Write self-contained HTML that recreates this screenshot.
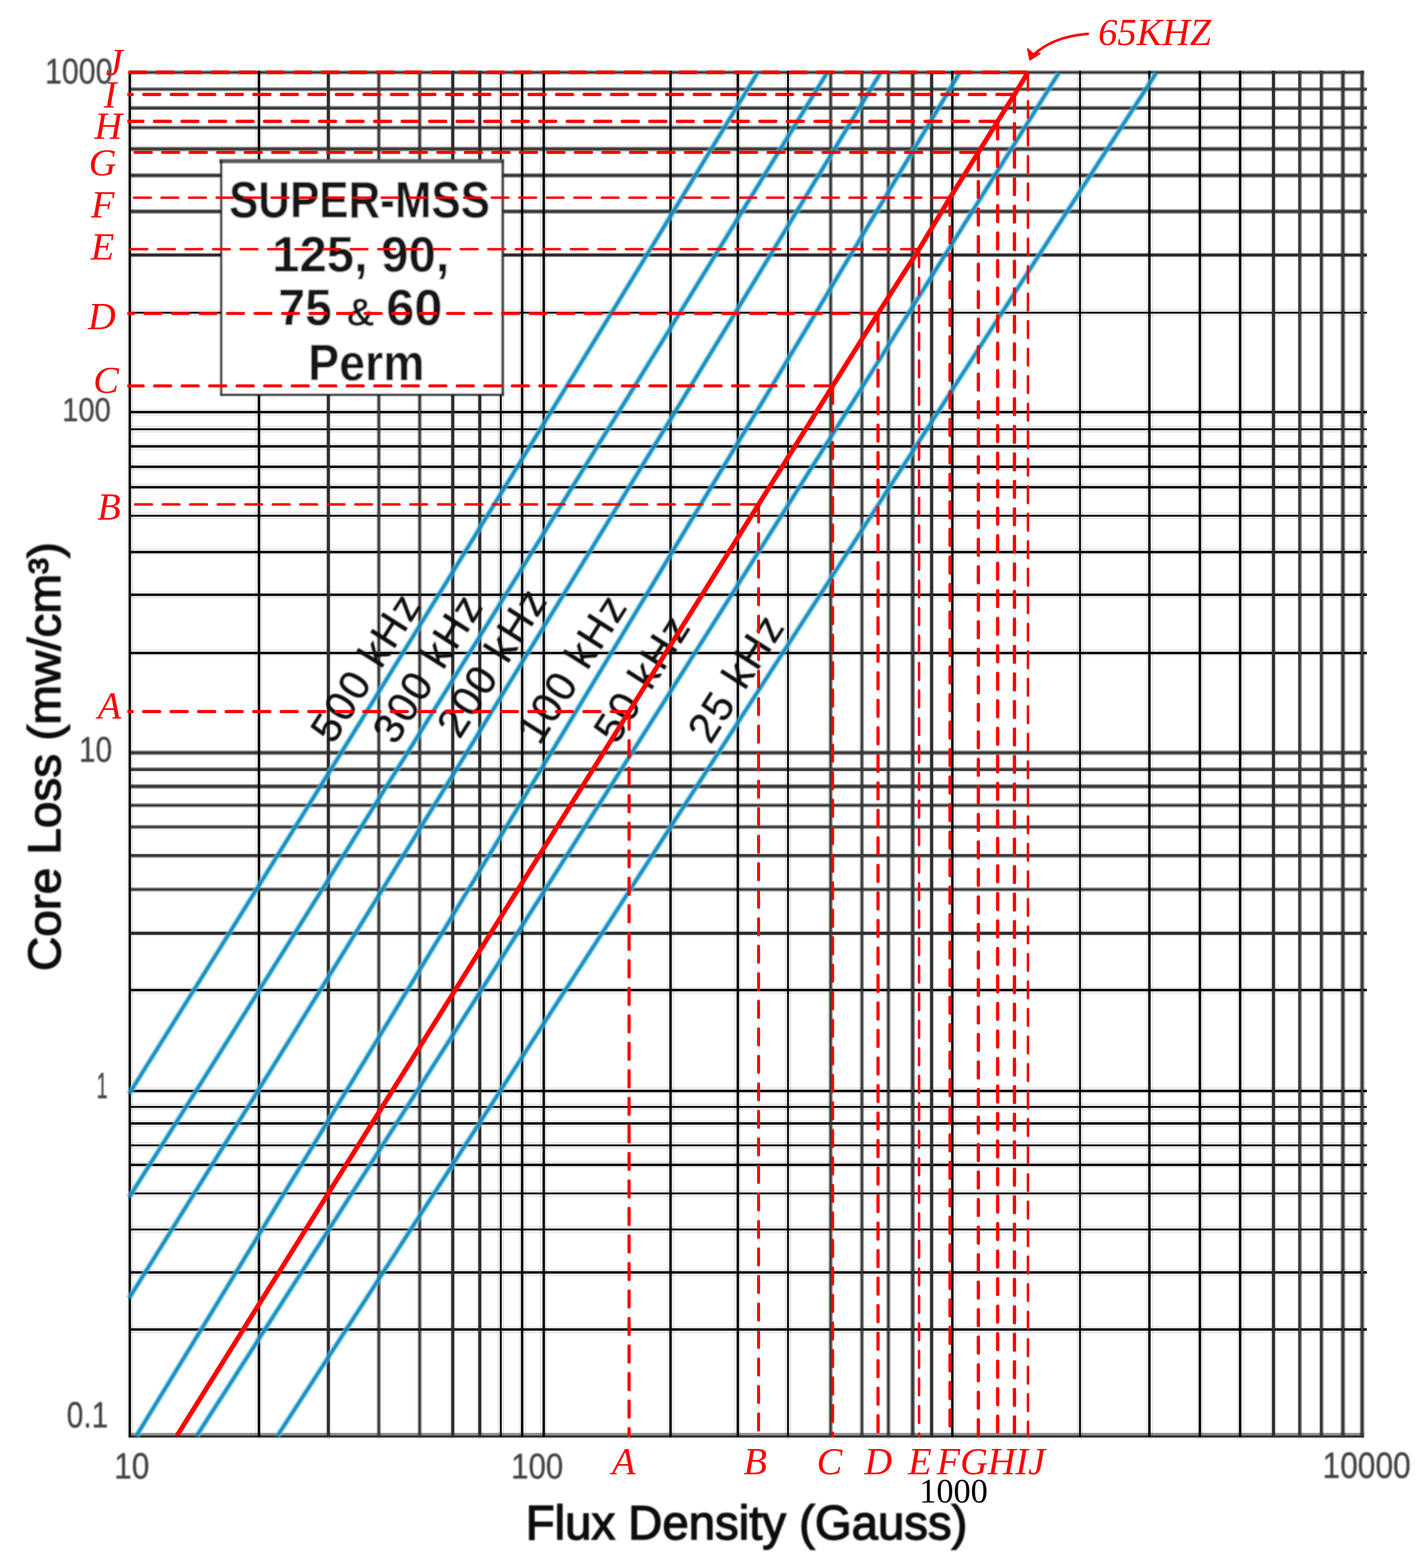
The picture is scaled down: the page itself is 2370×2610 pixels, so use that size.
<!DOCTYPE html>
<html lang="en">
<head>
<meta charset="utf-8">
<title>SUPER-MSS Core Loss vs Flux Density</title>
<style>
html,body{margin:0;padding:0;background:#fff;}
body{width:2370px;height:2610px;}
svg{display:block;}
</style>
</head>
<body>
<svg width="2370" height="2610" viewBox="0 0 2370 2610">
<defs>
<filter id="soft" x="0" y="0" width="2370" height="2610" filterUnits="userSpaceOnUse"><feGaussianBlur stdDeviation="1.0"/></filter>
<clipPath id="clipH"><rect x="212.5" y="0" width="2200" height="2610"/></clipPath>
<clipPath id="clipV"><rect x="0" y="0" width="2370" height="2392.6"/></clipPath>
</defs>
<rect width="2370" height="2610" fill="#fff"/>
<g id="chart">
<g id="grid" shape-rendering="crispEdges">
<rect x="214.0" y="116.80" width="2056.4" height="7.2" fill="#000" fill-opacity="0.4"/>
<rect x="214.0" y="144.70" width="2060.5" height="7.2" fill="#000" fill-opacity="0.4"/>
<rect x="214.0" y="176.20" width="2060.5" height="7.2" fill="#000" fill-opacity="0.4"/>
<rect x="214.0" y="208.70" width="2060.5" height="7.2" fill="#000" fill-opacity="0.4"/>
<rect x="214.0" y="244.40" width="2060.5" height="7.2" fill="#000" fill-opacity="0.4"/>
<rect x="214.0" y="288.40" width="2060.5" height="7.2" fill="#000" fill-opacity="0.4"/>
<rect x="214.0" y="348.40" width="2060.5" height="7.2" fill="#000" fill-opacity="0.4"/>
<rect x="214.0" y="420.00" width="2060.5" height="9.0" fill="#000" fill-opacity="0.12"/>
<rect x="214.0" y="515.00" width="2060.5" height="11.0" fill="#000" fill-opacity="0.085"/>
<rect x="214.0" y="680.50" width="2060.5" height="11.0" fill="#000" fill-opacity="0.085"/>
<rect x="214.0" y="708.90" width="2060.5" height="11.0" fill="#000" fill-opacity="0.085"/>
<rect x="214.0" y="737.50" width="2060.5" height="11.0" fill="#000" fill-opacity="0.085"/>
<rect x="214.0" y="771.70" width="2060.5" height="11.0" fill="#000" fill-opacity="0.085"/>
<rect x="214.0" y="805.20" width="2060.5" height="11.0" fill="#000" fill-opacity="0.085"/>
<rect x="214.0" y="853.00" width="2060.5" height="11.0" fill="#000" fill-opacity="0.085"/>
<rect x="214.0" y="913.10" width="2060.5" height="11.0" fill="#000" fill-opacity="0.085"/>
<rect x="214.0" y="984.70" width="2060.5" height="11.0" fill="#000" fill-opacity="0.085"/>
<rect x="214.0" y="1081.10" width="2060.5" height="11.0" fill="#000" fill-opacity="0.085"/>
<rect x="214.0" y="1249.30" width="2060.5" height="7.2" fill="#000" fill-opacity="0.4"/>
<rect x="214.0" y="1277.20" width="2060.5" height="7.2" fill="#000" fill-opacity="0.4"/>
<rect x="214.0" y="1305.30" width="2060.5" height="7.2" fill="#000" fill-opacity="0.4"/>
<rect x="214.0" y="1336.70" width="2060.5" height="7.2" fill="#000" fill-opacity="0.4"/>
<rect x="214.0" y="1372.80" width="2060.5" height="7.2" fill="#000" fill-opacity="0.4"/>
<rect x="214.0" y="1420.50" width="2060.5" height="7.2" fill="#000" fill-opacity="0.4"/>
<rect x="214.0" y="1476.80" width="2060.5" height="7.2" fill="#000" fill-opacity="0.4"/>
<rect x="214.0" y="1548.80" width="2060.5" height="9.0" fill="#000" fill-opacity="0.12"/>
<rect x="214.0" y="1642.50" width="2060.5" height="11.0" fill="#000" fill-opacity="0.085"/>
<rect x="214.0" y="1810.20" width="2060.5" height="11.0" fill="#000" fill-opacity="0.085"/>
<rect x="214.0" y="1837.00" width="2060.5" height="11.0" fill="#000" fill-opacity="0.085"/>
<rect x="214.0" y="1864.80" width="2060.5" height="11.0" fill="#000" fill-opacity="0.085"/>
<rect x="214.0" y="1900.90" width="2060.5" height="11.0" fill="#000" fill-opacity="0.085"/>
<rect x="214.0" y="1933.10" width="2060.5" height="11.0" fill="#000" fill-opacity="0.085"/>
<rect x="214.0" y="1980.90" width="2060.5" height="11.0" fill="#000" fill-opacity="0.085"/>
<rect x="214.0" y="2041.00" width="2060.5" height="11.0" fill="#000" fill-opacity="0.085"/>
<rect x="214.0" y="2112.50" width="2060.5" height="11.0" fill="#000" fill-opacity="0.085"/>
<rect x="214.0" y="2207.80" width="2060.5" height="11.0" fill="#000" fill-opacity="0.085"/>
<rect x="214.0" y="2385.30" width="2056.4" height="7.6" fill="#000" fill-opacity="0.42"/>
<rect x="210.50" y="118.0" width="11.0" height="2274.0" fill="#000" fill-opacity="0.085"/>
<rect x="425.10" y="118.0" width="11.0" height="2274.0" fill="#000" fill-opacity="0.085"/>
<rect x="542.00" y="118.0" width="9.0" height="2274.0" fill="#000" fill-opacity="0.12"/>
<rect x="626.70" y="118.0" width="7.2" height="2274.0" fill="#000" fill-opacity="0.4"/>
<rect x="694.70" y="118.0" width="7.2" height="2274.0" fill="#000" fill-opacity="0.4"/>
<rect x="749.30" y="118.0" width="9.0" height="2274.0" fill="#000" fill-opacity="0.12"/>
<rect x="793.70" y="118.0" width="9.0" height="2274.0" fill="#000" fill-opacity="0.12"/>
<rect x="828.00" y="118.0" width="11.0" height="2274.0" fill="#000" fill-opacity="0.085"/>
<rect x="863.50" y="118.0" width="11.0" height="2274.0" fill="#000" fill-opacity="0.085"/>
<rect x="899.30" y="118.0" width="11.0" height="2274.0" fill="#000" fill-opacity="0.085"/>
<rect x="1110.60" y="118.0" width="11.0" height="2274.0" fill="#000" fill-opacity="0.085"/>
<rect x="1222.30" y="118.0" width="11.0" height="2274.0" fill="#000" fill-opacity="0.085"/>
<rect x="1305.90" y="118.0" width="11.0" height="2274.0" fill="#000" fill-opacity="0.085"/>
<rect x="1378.60" y="118.0" width="7.2" height="2274.0" fill="#000" fill-opacity="0.4"/>
<rect x="1430.90" y="118.0" width="7.2" height="2274.0" fill="#000" fill-opacity="0.4"/>
<rect x="1475.10" y="118.0" width="7.2" height="2274.0" fill="#000" fill-opacity="0.4"/>
<rect x="1515.40" y="118.0" width="7.2" height="2274.0" fill="#000" fill-opacity="0.4"/>
<rect x="1546.00" y="118.0" width="9.0" height="2274.0" fill="#000" fill-opacity="0.12"/>
<rect x="1579.50" y="118.0" width="11.0" height="2274.0" fill="#000" fill-opacity="0.085"/>
<rect x="1791.90" y="118.0" width="11.0" height="2274.0" fill="#000" fill-opacity="0.085"/>
<rect x="1907.50" y="118.0" width="11.0" height="2274.0" fill="#000" fill-opacity="0.085"/>
<rect x="1991.50" y="118.0" width="11.0" height="2274.0" fill="#000" fill-opacity="0.085"/>
<rect x="2058.80" y="118.0" width="11.0" height="2274.0" fill="#000" fill-opacity="0.085"/>
<rect x="2115.10" y="118.0" width="9.0" height="2274.0" fill="#000" fill-opacity="0.12"/>
<rect x="2159.50" y="118.0" width="7.2" height="2274.0" fill="#000" fill-opacity="0.4"/>
<rect x="2195.50" y="118.0" width="7.2" height="2274.0" fill="#000" fill-opacity="0.4"/>
<rect x="2231.30" y="118.0" width="7.2" height="2274.0" fill="#000" fill-opacity="0.4"/>
<rect x="2263.40" y="118.0" width="7.2" height="2274.0" fill="#000" fill-opacity="0.4"/>
<rect x="214.0" y="118.70" width="2056.4" height="3.4" fill="#3a3a3a"/>
<rect x="214.0" y="146.60" width="2060.5" height="3.4" fill="#3a3a3a"/>
<rect x="214.0" y="178.10" width="2060.5" height="3.4" fill="#3a3a3a"/>
<rect x="214.0" y="210.60" width="2060.5" height="3.4" fill="#3a3a3a"/>
<rect x="214.0" y="246.30" width="2060.5" height="3.4" fill="#3a3a3a"/>
<rect x="214.0" y="290.30" width="2060.5" height="3.4" fill="#3a3a3a"/>
<rect x="214.0" y="350.30" width="2060.5" height="3.4" fill="#3a3a3a"/>
<rect x="214.0" y="422.10" width="2060.5" height="4.8" fill="#2e2e2e"/>
<rect x="214.0" y="518.60" width="2060.5" height="3.8" fill="#060606"/>
<rect x="214.0" y="684.10" width="2060.5" height="3.8" fill="#060606"/>
<rect x="214.0" y="712.50" width="2060.5" height="3.8" fill="#060606"/>
<rect x="214.0" y="741.10" width="2060.5" height="3.8" fill="#060606"/>
<rect x="214.0" y="775.30" width="2060.5" height="3.8" fill="#060606"/>
<rect x="214.0" y="808.80" width="2060.5" height="3.8" fill="#060606"/>
<rect x="214.0" y="856.60" width="2060.5" height="3.8" fill="#060606"/>
<rect x="214.0" y="916.70" width="2060.5" height="3.8" fill="#060606"/>
<rect x="214.0" y="988.30" width="2060.5" height="3.8" fill="#060606"/>
<rect x="214.0" y="1084.70" width="2060.5" height="3.8" fill="#060606"/>
<rect x="214.0" y="1251.20" width="2060.5" height="3.4" fill="#3a3a3a"/>
<rect x="214.0" y="1279.10" width="2060.5" height="3.4" fill="#3a3a3a"/>
<rect x="214.0" y="1307.20" width="2060.5" height="3.4" fill="#3a3a3a"/>
<rect x="214.0" y="1338.60" width="2060.5" height="3.4" fill="#3a3a3a"/>
<rect x="214.0" y="1374.70" width="2060.5" height="3.4" fill="#3a3a3a"/>
<rect x="214.0" y="1422.40" width="2060.5" height="3.4" fill="#3a3a3a"/>
<rect x="214.0" y="1478.70" width="2060.5" height="3.4" fill="#3a3a3a"/>
<rect x="214.0" y="1550.90" width="2060.5" height="4.8" fill="#2e2e2e"/>
<rect x="214.0" y="1646.10" width="2060.5" height="3.8" fill="#060606"/>
<rect x="214.0" y="1813.80" width="2060.5" height="3.8" fill="#060606"/>
<rect x="214.0" y="1840.60" width="2060.5" height="3.8" fill="#060606"/>
<rect x="214.0" y="1868.40" width="2060.5" height="3.8" fill="#060606"/>
<rect x="214.0" y="1904.50" width="2060.5" height="3.8" fill="#060606"/>
<rect x="214.0" y="1936.70" width="2060.5" height="3.8" fill="#060606"/>
<rect x="214.0" y="1984.50" width="2060.5" height="3.8" fill="#060606"/>
<rect x="214.0" y="2044.60" width="2060.5" height="3.8" fill="#060606"/>
<rect x="214.0" y="2116.10" width="2060.5" height="3.8" fill="#060606"/>
<rect x="214.0" y="2211.40" width="2060.5" height="3.8" fill="#060606"/>
<rect x="214.0" y="2388.60" width="2056.4" height="4.2" fill="#3a3a3a"/>
<rect x="214.10" y="118.0" width="3.8" height="2274.0" fill="#060606"/>
<rect x="428.70" y="118.0" width="3.8" height="2274.0" fill="#060606"/>
<rect x="544.10" y="118.0" width="4.8" height="2274.0" fill="#2e2e2e"/>
<rect x="628.60" y="118.0" width="3.4" height="2274.0" fill="#3a3a3a"/>
<rect x="696.60" y="118.0" width="3.4" height="2274.0" fill="#3a3a3a"/>
<rect x="751.40" y="118.0" width="4.8" height="2274.0" fill="#2e2e2e"/>
<rect x="795.80" y="118.0" width="4.8" height="2274.0" fill="#2e2e2e"/>
<rect x="831.60" y="118.0" width="3.8" height="2274.0" fill="#060606"/>
<rect x="867.10" y="118.0" width="3.8" height="2274.0" fill="#060606"/>
<rect x="902.90" y="118.0" width="3.8" height="2274.0" fill="#060606"/>
<rect x="1114.20" y="118.0" width="3.8" height="2274.0" fill="#060606"/>
<rect x="1225.90" y="118.0" width="3.8" height="2274.0" fill="#060606"/>
<rect x="1309.50" y="118.0" width="3.8" height="2274.0" fill="#060606"/>
<rect x="1380.50" y="118.0" width="3.4" height="2274.0" fill="#3a3a3a"/>
<rect x="1432.80" y="118.0" width="3.4" height="2274.0" fill="#3a3a3a"/>
<rect x="1477.00" y="118.0" width="3.4" height="2274.0" fill="#3a3a3a"/>
<rect x="1517.30" y="118.0" width="3.4" height="2274.0" fill="#3a3a3a"/>
<rect x="1548.10" y="118.0" width="4.8" height="2274.0" fill="#2e2e2e"/>
<rect x="1583.10" y="118.0" width="3.8" height="2274.0" fill="#060606"/>
<rect x="1795.50" y="118.0" width="3.8" height="2274.0" fill="#060606"/>
<rect x="1911.10" y="118.0" width="3.8" height="2274.0" fill="#060606"/>
<rect x="1995.10" y="118.0" width="3.8" height="2274.0" fill="#060606"/>
<rect x="2062.40" y="118.0" width="3.8" height="2274.0" fill="#060606"/>
<rect x="2117.20" y="118.0" width="4.8" height="2274.0" fill="#2e2e2e"/>
<rect x="2161.40" y="118.0" width="3.4" height="2274.0" fill="#3a3a3a"/>
<rect x="2197.40" y="118.0" width="3.4" height="2274.0" fill="#3a3a3a"/>
<rect x="2233.20" y="118.0" width="3.4" height="2274.0" fill="#3a3a3a"/>
<rect x="2265.30" y="118.0" width="3.4" height="2274.0" fill="#3a3a3a"/>
</g>
<g id="curves" filter="url(#soft)">
<polyline points="1260.6,121.5 1236.4,161.5 1212.1,201.5 1187.8,241.5 1163.5,281.5 1139.2,321.5 1114.8,361.5 1090.5,401.5 1066.1,441.5 1041.7,481.5 1017.3,521.5 992.9,561.5 968.4,601.5 944.0,641.5 919.5,681.5 895.0,721.5 870.5,761.5 846.0,801.5 821.4,841.5 796.8,881.5 772.3,921.5 747.6,961.5 723.0,1001.5 698.4,1041.5 673.7,1081.5 649.1,1121.5 624.4,1161.5 599.7,1201.5 574.9,1241.5 550.2,1281.5 525.4,1321.5 500.6,1361.5 475.8,1401.5 451.0,1441.5 426.2,1481.5 401.3,1521.5 376.5,1561.5 351.6,1601.5 326.7,1641.5 301.8,1681.5 276.8,1721.5 251.9,1761.5 226.9,1801.5 215.0,1820.5" fill="none" stroke="#86dcf5" stroke-opacity="0.6" stroke-width="9.8" stroke-linejoin="round"/>
<polyline points="1376.3,121.5 1351.8,161.5 1327.4,201.5 1302.9,241.5 1278.3,281.5 1253.8,321.5 1229.2,361.5 1204.7,401.5 1180.1,441.5 1155.5,481.5 1130.9,521.5 1106.3,561.5 1081.6,601.5 1057.0,641.5 1032.3,681.5 1007.6,721.5 982.9,761.5 958.2,801.5 933.5,841.5 908.7,881.5 883.9,921.5 859.2,961.5 834.4,1001.5 809.6,1041.5 784.7,1081.5 759.9,1121.5 735.0,1161.5 710.2,1201.5 685.3,1241.5 660.4,1281.5 635.5,1321.5 610.5,1361.5 585.6,1401.5 560.6,1441.5 535.6,1481.5 510.6,1521.5 485.6,1561.5 460.6,1601.5 435.6,1641.5 410.5,1681.5 385.5,1721.5 360.4,1761.5 335.3,1801.5 310.2,1841.5 285.0,1881.5 259.9,1921.5 234.7,1961.5 215.0,1992.8" fill="none" stroke="#86dcf5" stroke-opacity="0.6" stroke-width="9.8" stroke-linejoin="round"/>
<polyline points="1465.3,121.5 1441.2,161.5 1417.0,201.5 1392.9,241.5 1368.7,281.5 1344.5,321.5 1320.3,361.5 1296.0,401.5 1271.8,441.5 1247.5,481.5 1223.2,521.5 1198.9,561.5 1174.6,601.5 1150.3,641.5 1126.0,681.5 1101.6,721.5 1077.2,761.5 1052.8,801.5 1028.4,841.5 1004.0,881.5 979.6,921.5 955.1,961.5 930.7,1001.5 906.2,1041.5 881.7,1081.5 857.2,1121.5 832.7,1161.5 808.1,1201.5 783.6,1241.5 759.0,1281.5 734.4,1321.5 709.8,1361.5 685.2,1401.5 660.5,1441.5 635.9,1481.5 611.2,1521.5 586.5,1561.5 561.9,1601.5 537.1,1641.5 512.4,1681.5 487.7,1721.5 462.9,1761.5 438.1,1801.5 413.4,1841.5 388.5,1881.5 363.7,1921.5 338.9,1961.5 314.0,2001.5 289.2,2041.5 264.3,2081.5 239.4,2121.5 215.0,2160.7" fill="none" stroke="#86dcf5" stroke-opacity="0.6" stroke-width="9.8" stroke-linejoin="round"/>
<polyline points="1596.9,121.5 1573.0,161.5 1549.1,201.5 1525.2,241.5 1501.2,281.5 1477.3,321.5 1453.3,361.5 1429.4,401.5 1405.4,441.5 1381.4,481.5 1357.4,521.5 1333.4,561.5 1309.4,601.5 1285.4,641.5 1261.4,681.5 1237.4,721.5 1213.3,761.5 1189.3,801.5 1165.2,841.5 1141.1,881.5 1117.1,921.5 1093.0,961.5 1068.9,1001.5 1044.8,1041.5 1020.7,1081.5 996.5,1121.5 972.4,1161.5 948.3,1201.5 924.1,1241.5 900.0,1281.5 875.8,1321.5 851.6,1361.5 827.4,1401.5 803.2,1441.5 779.0,1481.5 754.8,1521.5 730.6,1561.5 706.4,1601.5 682.1,1641.5 657.9,1681.5 633.6,1721.5 609.4,1761.5 585.1,1801.5 560.8,1841.5 536.5,1881.5 512.2,1921.5 487.9,1961.5 463.6,2001.5 439.3,2041.5 414.9,2081.5 390.6,2121.5 366.2,2161.5 341.9,2201.5 317.5,2241.5 293.1,2281.5 268.7,2321.5 244.3,2361.5 226.6,2390.5" fill="none" stroke="#86dcf5" stroke-opacity="0.6" stroke-width="9.8" stroke-linejoin="round"/>
<polyline points="1762.1,121.5 1737.2,161.5 1712.2,201.5 1687.2,241.5 1662.2,281.5 1637.2,321.5 1612.2,361.5 1587.2,401.5 1562.1,441.5 1537.1,481.5 1512.0,521.5 1486.9,561.5 1461.9,601.5 1436.8,641.5 1411.6,681.5 1386.5,721.5 1361.4,761.5 1336.2,801.5 1311.1,841.5 1285.9,881.5 1260.7,921.5 1235.5,961.5 1210.3,1001.5 1185.1,1041.5 1159.8,1081.5 1134.6,1121.5 1109.3,1161.5 1084.1,1201.5 1058.8,1241.5 1033.5,1281.5 1008.2,1321.5 982.8,1361.5 957.5,1401.5 932.2,1441.5 906.8,1481.5 881.4,1521.5 856.0,1561.5 830.6,1601.5 805.2,1641.5 779.8,1681.5 754.4,1721.5 728.9,1761.5 703.5,1801.5 678.0,1841.5 652.5,1881.5 627.0,1921.5 601.5,1961.5 576.0,2001.5 550.5,2041.5 524.9,2081.5 499.4,2121.5 473.8,2161.5 448.2,2201.5 422.6,2241.5 397.0,2281.5 371.4,2321.5 345.7,2361.5 327.2,2390.5" fill="none" stroke="#86dcf5" stroke-opacity="0.6" stroke-width="9.8" stroke-linejoin="round"/>
<polyline points="1924.3,121.5 1898.6,161.5 1872.8,201.5 1847.1,241.5 1821.4,281.5 1795.6,321.5 1769.9,361.5 1744.1,401.5 1718.4,441.5 1692.6,481.5 1666.9,521.5 1641.1,561.5 1615.4,601.5 1589.6,641.5 1563.9,681.5 1538.1,721.5 1512.3,761.5 1486.6,801.5 1460.8,841.5 1435.0,881.5 1409.3,921.5 1383.5,961.5 1357.7,1001.5 1331.9,1041.5 1306.2,1081.5 1280.4,1121.5 1254.6,1161.5 1228.8,1201.5 1203.0,1241.5 1177.2,1281.5 1151.5,1321.5 1125.7,1361.5 1099.9,1401.5 1074.1,1441.5 1048.3,1481.5 1022.5,1521.5 996.7,1561.5 970.9,1601.5 945.1,1641.5 919.3,1681.5 893.5,1721.5 867.7,1761.5 841.8,1801.5 816.0,1841.5 790.2,1881.5 764.4,1921.5 738.6,1961.5 712.8,2001.5 686.9,2041.5 661.1,2081.5 635.3,2121.5 609.5,2161.5 583.6,2201.5 557.8,2241.5 532.0,2281.5 506.1,2321.5 480.3,2361.5 461.5,2390.5" fill="none" stroke="#86dcf5" stroke-opacity="0.6" stroke-width="9.8" stroke-linejoin="round"/>
<polyline points="1260.6,121.5 1236.4,161.5 1212.1,201.5 1187.8,241.5 1163.5,281.5 1139.2,321.5 1114.8,361.5 1090.5,401.5 1066.1,441.5 1041.7,481.5 1017.3,521.5 992.9,561.5 968.4,601.5 944.0,641.5 919.5,681.5 895.0,721.5 870.5,761.5 846.0,801.5 821.4,841.5 796.8,881.5 772.3,921.5 747.6,961.5 723.0,1001.5 698.4,1041.5 673.7,1081.5 649.1,1121.5 624.4,1161.5 599.7,1201.5 574.9,1241.5 550.2,1281.5 525.4,1321.5 500.6,1361.5 475.8,1401.5 451.0,1441.5 426.2,1481.5 401.3,1521.5 376.5,1561.5 351.6,1601.5 326.7,1641.5 301.8,1681.5 276.8,1721.5 251.9,1761.5 226.9,1801.5 215.0,1820.5" fill="none" stroke="#0485ba" stroke-opacity="0.88" stroke-width="6.4" stroke-linejoin="round"/>
<polyline points="1376.3,121.5 1351.8,161.5 1327.4,201.5 1302.9,241.5 1278.3,281.5 1253.8,321.5 1229.2,361.5 1204.7,401.5 1180.1,441.5 1155.5,481.5 1130.9,521.5 1106.3,561.5 1081.6,601.5 1057.0,641.5 1032.3,681.5 1007.6,721.5 982.9,761.5 958.2,801.5 933.5,841.5 908.7,881.5 883.9,921.5 859.2,961.5 834.4,1001.5 809.6,1041.5 784.7,1081.5 759.9,1121.5 735.0,1161.5 710.2,1201.5 685.3,1241.5 660.4,1281.5 635.5,1321.5 610.5,1361.5 585.6,1401.5 560.6,1441.5 535.6,1481.5 510.6,1521.5 485.6,1561.5 460.6,1601.5 435.6,1641.5 410.5,1681.5 385.5,1721.5 360.4,1761.5 335.3,1801.5 310.2,1841.5 285.0,1881.5 259.9,1921.5 234.7,1961.5 215.0,1992.8" fill="none" stroke="#0485ba" stroke-opacity="0.88" stroke-width="6.4" stroke-linejoin="round"/>
<polyline points="1465.3,121.5 1441.2,161.5 1417.0,201.5 1392.9,241.5 1368.7,281.5 1344.5,321.5 1320.3,361.5 1296.0,401.5 1271.8,441.5 1247.5,481.5 1223.2,521.5 1198.9,561.5 1174.6,601.5 1150.3,641.5 1126.0,681.5 1101.6,721.5 1077.2,761.5 1052.8,801.5 1028.4,841.5 1004.0,881.5 979.6,921.5 955.1,961.5 930.7,1001.5 906.2,1041.5 881.7,1081.5 857.2,1121.5 832.7,1161.5 808.1,1201.5 783.6,1241.5 759.0,1281.5 734.4,1321.5 709.8,1361.5 685.2,1401.5 660.5,1441.5 635.9,1481.5 611.2,1521.5 586.5,1561.5 561.9,1601.5 537.1,1641.5 512.4,1681.5 487.7,1721.5 462.9,1761.5 438.1,1801.5 413.4,1841.5 388.5,1881.5 363.7,1921.5 338.9,1961.5 314.0,2001.5 289.2,2041.5 264.3,2081.5 239.4,2121.5 215.0,2160.7" fill="none" stroke="#0485ba" stroke-opacity="0.88" stroke-width="6.4" stroke-linejoin="round"/>
<polyline points="1596.9,121.5 1573.0,161.5 1549.1,201.5 1525.2,241.5 1501.2,281.5 1477.3,321.5 1453.3,361.5 1429.4,401.5 1405.4,441.5 1381.4,481.5 1357.4,521.5 1333.4,561.5 1309.4,601.5 1285.4,641.5 1261.4,681.5 1237.4,721.5 1213.3,761.5 1189.3,801.5 1165.2,841.5 1141.1,881.5 1117.1,921.5 1093.0,961.5 1068.9,1001.5 1044.8,1041.5 1020.7,1081.5 996.5,1121.5 972.4,1161.5 948.3,1201.5 924.1,1241.5 900.0,1281.5 875.8,1321.5 851.6,1361.5 827.4,1401.5 803.2,1441.5 779.0,1481.5 754.8,1521.5 730.6,1561.5 706.4,1601.5 682.1,1641.5 657.9,1681.5 633.6,1721.5 609.4,1761.5 585.1,1801.5 560.8,1841.5 536.5,1881.5 512.2,1921.5 487.9,1961.5 463.6,2001.5 439.3,2041.5 414.9,2081.5 390.6,2121.5 366.2,2161.5 341.9,2201.5 317.5,2241.5 293.1,2281.5 268.7,2321.5 244.3,2361.5 226.6,2390.5" fill="none" stroke="#0485ba" stroke-opacity="0.88" stroke-width="6.4" stroke-linejoin="round"/>
<polyline points="1762.1,121.5 1737.2,161.5 1712.2,201.5 1687.2,241.5 1662.2,281.5 1637.2,321.5 1612.2,361.5 1587.2,401.5 1562.1,441.5 1537.1,481.5 1512.0,521.5 1486.9,561.5 1461.9,601.5 1436.8,641.5 1411.6,681.5 1386.5,721.5 1361.4,761.5 1336.2,801.5 1311.1,841.5 1285.9,881.5 1260.7,921.5 1235.5,961.5 1210.3,1001.5 1185.1,1041.5 1159.8,1081.5 1134.6,1121.5 1109.3,1161.5 1084.1,1201.5 1058.8,1241.5 1033.5,1281.5 1008.2,1321.5 982.8,1361.5 957.5,1401.5 932.2,1441.5 906.8,1481.5 881.4,1521.5 856.0,1561.5 830.6,1601.5 805.2,1641.5 779.8,1681.5 754.4,1721.5 728.9,1761.5 703.5,1801.5 678.0,1841.5 652.5,1881.5 627.0,1921.5 601.5,1961.5 576.0,2001.5 550.5,2041.5 524.9,2081.5 499.4,2121.5 473.8,2161.5 448.2,2201.5 422.6,2241.5 397.0,2281.5 371.4,2321.5 345.7,2361.5 327.2,2390.5" fill="none" stroke="#0485ba" stroke-opacity="0.88" stroke-width="6.4" stroke-linejoin="round"/>
<polyline points="1924.3,121.5 1898.6,161.5 1872.8,201.5 1847.1,241.5 1821.4,281.5 1795.6,321.5 1769.9,361.5 1744.1,401.5 1718.4,441.5 1692.6,481.5 1666.9,521.5 1641.1,561.5 1615.4,601.5 1589.6,641.5 1563.9,681.5 1538.1,721.5 1512.3,761.5 1486.6,801.5 1460.8,841.5 1435.0,881.5 1409.3,921.5 1383.5,961.5 1357.7,1001.5 1331.9,1041.5 1306.2,1081.5 1280.4,1121.5 1254.6,1161.5 1228.8,1201.5 1203.0,1241.5 1177.2,1281.5 1151.5,1321.5 1125.7,1361.5 1099.9,1401.5 1074.1,1441.5 1048.3,1481.5 1022.5,1521.5 996.7,1561.5 970.9,1601.5 945.1,1641.5 919.3,1681.5 893.5,1721.5 867.7,1761.5 841.8,1801.5 816.0,1841.5 790.2,1881.5 764.4,1921.5 738.6,1961.5 712.8,2001.5 686.9,2041.5 661.1,2081.5 635.3,2121.5 609.5,2161.5 583.6,2201.5 557.8,2241.5 532.0,2281.5 506.1,2321.5 480.3,2361.5 461.5,2390.5" fill="none" stroke="#0485ba" stroke-opacity="0.88" stroke-width="6.4" stroke-linejoin="round"/>
</g>
<g id="freq" filter="url(#soft)">
<text x="554.4" y="1240.5" transform="rotate(-57.6 554.4 1240.5)" font-family="'Liberation Sans', sans-serif" font-size="70" letter-spacing="3.0" fill="#0a0a0a" stroke="#0a0a0a" stroke-width="0.5">500 kHz</text>
<text x="657.7" y="1242.1" transform="rotate(-57.6 657.7 1242.1)" font-family="'Liberation Sans', sans-serif" font-size="70" letter-spacing="3.0" fill="#0a0a0a" stroke="#0a0a0a" stroke-width="0.5">300 kHz</text>
<text x="764.8" y="1232.1" transform="rotate(-57.6 764.8 1232.1)" font-family="'Liberation Sans', sans-serif" font-size="70" letter-spacing="3.0" fill="#0a0a0a" stroke="#0a0a0a" stroke-width="0.5">200 kHz</text>
<text x="897.9" y="1242.6" transform="rotate(-57.6 897.9 1242.6)" font-family="'Liberation Sans', sans-serif" font-size="70" letter-spacing="3.0" fill="#0a0a0a" stroke="#0a0a0a" stroke-width="0.5">100 kHz</text>
<text x="1025.7" y="1241.0" transform="rotate(-57.6 1025.7 1241.0)" font-family="'Liberation Sans', sans-serif" font-size="70" letter-spacing="3.0" fill="#0a0a0a" stroke="#0a0a0a" stroke-width="0.5">50 kHz</text>
<text x="1182.3" y="1240.6" transform="rotate(-57.6 1182.3 1240.6)" font-family="'Liberation Sans', sans-serif" font-size="70" letter-spacing="3.0" fill="#0a0a0a" stroke="#0a0a0a" stroke-width="0.5">25 kHz</text>
</g>
<g id="labels" filter="url(#soft)">
<text transform="translate(74.96 139.40) scale(0.5051 0.6014)" font-family="'Liberation Sans', sans-serif" font-size="100" font-weight="normal" font-style="normal" fill="#434347" stroke="#434347" stroke-width="0.9">1000</text>
<text transform="translate(103.61 700.80) scale(0.4839 0.5614)" font-family="'Liberation Sans', sans-serif" font-size="100" font-weight="normal" font-style="normal" fill="#434347" stroke="#434347" stroke-width="0.9">100</text>
<text transform="translate(131.54 1268.00) scale(0.4950 0.6000)" font-family="'Liberation Sans', sans-serif" font-size="100" font-weight="normal" font-style="normal" fill="#434347" stroke="#434347" stroke-width="0.9">10</text>
<text transform="translate(160.68 1827.80) scale(0.3318 0.6087)" font-family="'Liberation Sans', sans-serif" font-size="100" font-weight="normal" font-style="normal" fill="#434347" stroke="#434347" stroke-width="0.9">1</text>
<text transform="translate(111.11 2376.40) scale(0.4977 0.6057)" font-family="'Liberation Sans', sans-serif" font-size="100" font-weight="normal" font-style="normal" fill="#434347" stroke="#434347" stroke-width="0.9">0.1</text>
<text transform="translate(189.90 2460.50) scale(0.5287 0.6071)" font-family="'Liberation Sans', sans-serif" font-size="100" font-weight="normal" font-style="normal" fill="#434347" stroke="#434347" stroke-width="0.9">10</text>
<text transform="translate(850.87 2461.00) scale(0.5185 0.5929)" font-family="'Liberation Sans', sans-serif" font-size="100" font-weight="normal" font-style="normal" fill="#434347" stroke="#434347" stroke-width="0.9">100</text>
<text transform="translate(2201.10 2460.20) scale(0.5279 0.6086)" font-family="'Liberation Sans', sans-serif" font-size="100" font-weight="normal" font-style="normal" fill="#434347" stroke="#434347" stroke-width="0.9">10000</text>
<text transform="translate(875.00 2562.30) scale(0.7875 0.8055)" font-family="'Liberation Sans', sans-serif" font-size="100" font-weight="normal" font-style="normal" fill="#111" stroke="#111" stroke-width="2.8">Flux Density (Gauss)</text>
<text transform="translate(99.8 1612.5) rotate(-90) translate(-3.97 0.00) scale(0.7935 0.7644)" font-family="'Liberation Sans', sans-serif" font-size="100" font-weight="normal" font-style="normal" fill="#111" stroke="#111" stroke-width="2.8">Core Loss (mw/cm³)</text>
<rect x="368.4" y="268.4" width="468" height="388.5" fill="#fff"/>
<rect x="365" y="264.8" width="474" height="7" fill="#5a5a5a"/>
<rect x="366.6" y="266" width="3.6" height="393" fill="#222"/>
<rect x="834.4" y="266" width="4.2" height="393" fill="#333"/>
<rect x="366.6" y="655" width="472" height="3.8" fill="#222"/>
<text transform="translate(381.14 361.60) scale(0.7308 0.8443)" font-family="'Liberation Sans', sans-serif" font-size="100" font-weight="bold" font-style="normal" fill="#141414" >SUPER-MSS</text>
<text transform="translate(453.00 452.40) scale(0.8163 0.8429)" font-family="'Liberation Sans', sans-serif" font-size="100" font-weight="bold" font-style="normal" fill="#141414" >125, 90,</text>
<text transform="translate(463.20 540.50) scale(0.8010 0.8443)" font-family="'Liberation Sans', sans-serif" font-size="100" font-weight="bold" font-style="normal" fill="#141414" >75</text>
<text transform="translate(578.04 540.50) scale(0.6540 0.6232)" font-family="'Liberation Sans', sans-serif" font-size="100" font-weight="normal" font-style="normal" fill="#141414" stroke="#141414" stroke-width="3">&amp;</text>
<text transform="translate(642.77 540.50) scale(0.8421 0.8443)" font-family="'Liberation Sans', sans-serif" font-size="100" font-weight="bold" font-style="normal" fill="#141414" >60</text>
<text transform="translate(512.85 633.40) scale(0.7749 0.8449)" font-family="'Liberation Sans', sans-serif" font-size="100" font-weight="bold" font-style="normal" fill="#141414" >Perm</text>
</g>
</g>
<g id="annot">
<line x1="1044.45" y1="1184.4" x2="213.5" y2="1184.4" stroke="#f00" stroke-width="5.1" stroke-linecap="round" stroke-dasharray="26.90 18.90" clip-path="url(#clipH)"/>
<line x1="1047.0" y1="1187.05" x2="1047.0" y2="2392.0" stroke="#f00" stroke-width="5.3" stroke-linecap="round" stroke-dasharray="26.70 19.10" clip-path="url(#clipV)"/>
<line x1="1260.35" y1="839.7" x2="213.5" y2="839.7" stroke="#f00" stroke-width="4.3" stroke-linecap="round" stroke-dasharray="27.70 18.10" clip-path="url(#clipH)"/>
<line x1="1262.5" y1="842.15" x2="1262.5" y2="2392.0" stroke="#f00" stroke-width="4.9" stroke-linecap="round" stroke-dasharray="27.10 18.70" clip-path="url(#clipV)"/>
<line x1="1383.35" y1="642.3" x2="213.5" y2="642.3" stroke="#f00" stroke-width="5.1" stroke-linecap="round" stroke-dasharray="26.90 18.90" clip-path="url(#clipH)"/>
<line x1="1385.9" y1="644.65" x2="1385.9" y2="2392.0" stroke="#f00" stroke-width="4.7" stroke-linecap="round" stroke-dasharray="27.30 18.50" clip-path="url(#clipV)"/>
<line x1="1458.85" y1="521.8" x2="213.5" y2="521.8" stroke="#f00" stroke-width="4.9" stroke-linecap="round" stroke-dasharray="27.10 18.70" clip-path="url(#clipH)"/>
<line x1="1461.3" y1="524.45" x2="1461.3" y2="2392.0" stroke="#f00" stroke-width="5.3" stroke-linecap="round" stroke-dasharray="26.70 19.10" clip-path="url(#clipV)"/>
<line x1="1527.55" y1="414.8" x2="213.5" y2="414.8" stroke="#f00" stroke-width="4.1" stroke-linecap="round" stroke-dasharray="27.90 17.90" clip-path="url(#clipH)"/>
<line x1="1529.6" y1="416.85" x2="1529.6" y2="2392.0" stroke="#f00" stroke-width="4.1" stroke-linecap="round" stroke-dasharray="27.90 17.90" clip-path="url(#clipV)"/>
<line x1="1579.15" y1="329.0" x2="213.5" y2="329.0" stroke="#f00" stroke-width="4.1" stroke-linecap="round" stroke-dasharray="27.90 17.90" clip-path="url(#clipH)"/>
<line x1="1581.2" y1="331.75" x2="1581.2" y2="2392.0" stroke="#f00" stroke-width="5.5" stroke-linecap="round" stroke-dasharray="26.50 19.30" clip-path="url(#clipV)"/>
<line x1="1625.65" y1="253.7" x2="213.5" y2="253.7" stroke="#f00" stroke-width="5.3" stroke-linecap="round" stroke-dasharray="26.70 19.10" clip-path="url(#clipH)"/>
<line x1="1628.3" y1="256.45" x2="1628.3" y2="2392.0" stroke="#f00" stroke-width="5.5" stroke-linecap="round" stroke-dasharray="26.50 19.30" clip-path="url(#clipV)"/>
<line x1="1657.75" y1="202.0" x2="213.5" y2="202.0" stroke="#f00" stroke-width="5.3" stroke-linecap="round" stroke-dasharray="26.70 19.10" clip-path="url(#clipH)"/>
<line x1="1660.4" y1="204.75" x2="1660.4" y2="2392.0" stroke="#f00" stroke-width="5.5" stroke-linecap="round" stroke-dasharray="26.50 19.30" clip-path="url(#clipV)"/>
<line x1="1685.65" y1="157.3" x2="213.5" y2="157.3" stroke="#f00" stroke-width="5.5" stroke-linecap="round" stroke-dasharray="26.50 19.30" clip-path="url(#clipH)"/>
<line x1="1688.4" y1="160.05" x2="1688.4" y2="2392.0" stroke="#f00" stroke-width="5.5" stroke-linecap="round" stroke-dasharray="26.50 19.30" clip-path="url(#clipV)"/>
<line x1="1707.85" y1="120.4" x2="213.5" y2="120.4" stroke="#f00" stroke-width="5.9" stroke-linecap="round" stroke-dasharray="26.10 19.70" clip-path="url(#clipH)"/>
<line x1="1710.8" y1="122.45" x2="1710.8" y2="2392.0" stroke="#f00" stroke-width="4.1" stroke-linecap="round" stroke-dasharray="27.90 17.90" clip-path="url(#clipV)"/>
<polyline points="294.7,2389.5 1047.0,1184.4 1262.5,839.7 1385.9,642.3 1461.3,521.8 1529.6,414.8 1581.2,329.0 1628.3,253.7 1660.4,202.0 1688.4,157.3 1710.8,120.4" fill="none" stroke="#f00" stroke-width="8.0" stroke-linejoin="round" stroke-linecap="butt"/>
<path d="M1810.7,56.4 C1782,58.5 1746,66.5 1718,93" fill="none" stroke="#f00" stroke-width="4.2" stroke-linecap="round"/>
<path d="M1710.6,81.5 L1714.4,99.4 L1730.8,88.9 L1719.6,89.6 Z" fill="#f00" stroke="#f00" stroke-width="2.6" stroke-linejoin="round"/>
<text x="176.00" y="125.40" font-family="'Liberation Serif', serif" font-size="63.8" font-weight="normal" font-style="italic" fill="#f00">J</text>
<text x="172.85" y="179.00" font-family="'Liberation Serif', serif" font-size="63.8" font-weight="normal" font-style="italic" fill="#f00">I</text>
<text x="157.22" y="231.00" font-family="'Liberation Serif', serif" font-size="63.8" font-weight="normal" font-style="italic" fill="#f00">H</text>
<text x="147.76" y="292.00" font-family="'Liberation Serif', serif" font-size="63.8" font-weight="normal" font-style="italic" fill="#f00">G</text>
<text x="151.54" y="362.00" font-family="'Liberation Serif', serif" font-size="63.8" font-weight="normal" font-style="italic" fill="#f00">F</text>
<text x="151.35" y="431.80" font-family="'Liberation Serif', serif" font-size="63.8" font-weight="normal" font-style="italic" fill="#f00">E</text>
<text x="146.44" y="548.00" font-family="'Liberation Serif', serif" font-size="63.8" font-weight="normal" font-style="italic" fill="#f00">D</text>
<text x="155.36" y="654.40" font-family="'Liberation Serif', serif" font-size="63.8" font-weight="normal" font-style="italic" fill="#f00">C</text>
<text x="161.88" y="865.30" font-family="'Liberation Serif', serif" font-size="63.8" font-weight="normal" font-style="italic" fill="#f00">B</text>
<text x="162.74" y="1195.60" font-family="'Liberation Serif', serif" font-size="63.8" font-weight="normal" font-style="italic" fill="#f00">A</text>
<text x="1018.39" y="2453.90" font-family="'Liberation Serif', serif" font-size="63.8" font-weight="normal" font-style="italic" fill="#f00">A</text>
<text x="1237.38" y="2453.90" font-family="'Liberation Serif', serif" font-size="63.8" font-weight="normal" font-style="italic" fill="#f00">B</text>
<text x="1359.16" y="2453.90" font-family="'Liberation Serif', serif" font-size="63.8" font-weight="normal" font-style="italic" fill="#f00">C</text>
<text x="1438.74" y="2453.90" font-family="'Liberation Serif', serif" font-size="63.8" font-weight="normal" font-style="italic" fill="#f00">D</text>
<text x="1511.45" y="2453.90" font-family="'Liberation Serif', serif" font-size="63.8" font-weight="normal" font-style="italic" fill="#f00">E</text>
<text x="1558.94" y="2453.90" font-family="'Liberation Serif', serif" font-size="63.8" font-weight="normal" font-style="italic" fill="#f00">FGHIJ</text>
<text x="1827.85" y="75.10" font-family="'Liberation Serif', serif" font-size="63.8" font-weight="normal" font-style="italic" fill="#f00">65KHZ</text>
<text x="1529.94" y="2500.60" font-family="'Liberation Serif', serif" font-size="57" font-weight="normal" font-style="normal" fill="#000">1000</text>
</g>
</svg>
</body>
</html>
